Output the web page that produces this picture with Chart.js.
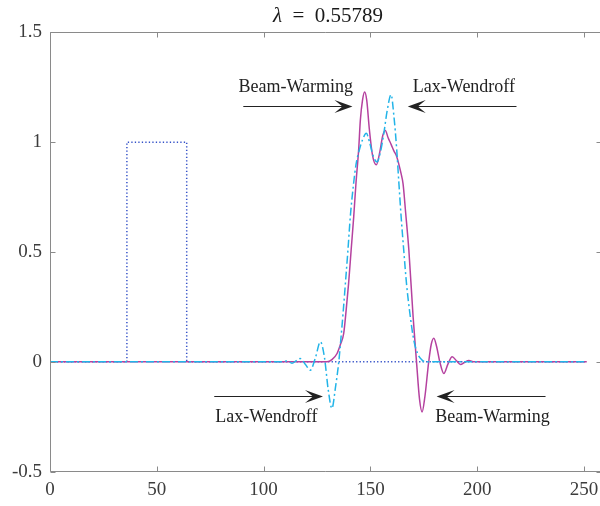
<!DOCTYPE html>
<html>
<head>
<meta charset="utf-8">
<script src="https://cdn.jsdelivr.net/npm/chart.js@4.4.1/dist/chart.umd.min.js"></script>
<style>
html, body { margin: 0; padding: 0; background: #fff; }
#wrap { width: 600px; height: 506px; position: relative; }
</style>
</head>
<body>
<div id="wrap"><canvas id="chart"></canvas></div>
<script>
// initial square pulse (dotted)
var initX = [0, 36, 36, 64, 64, 251.3];
var initY = [0, 0, 1, 1, 0, 0];

// Beam-Warming (solid)
var bwX = [0, 129.7, 132, 134.4, 136, 137.5, 138.7, 139.8, 141, 142.2, 143.3, 144.5, 145.3, 146.3, 147.3,
  148.3, 149.5, 151, 152.8, 154.3, 155.8, 157, 158.3, 159.7, 161, 162.3, 163.3, 164.3, 165.3, 166.5,
  168, 170, 171.6, 173, 174.2, 175.5, 177.3, 178.5, 179.7, 181, 182.5, 184.4, 186.3, 188.3, 190.3,
  192.2, 194, 196.1, 198.5, 251.3];
var bwY = [0, 0, 0.01, 0.038, 0.08, 0.129, 0.24, 0.357, 0.51, 0.661, 0.82, 0.965, 1.10, 1.19, 1.228,
  1.19, 1.06, 0.94, 0.897, 0.95, 1.03, 1.053, 1.02, 0.99, 0.96, 0.935, 0.90, 0.86, 0.81, 0.68,
  0.51, 0.205, 0, -0.17, -0.228, -0.16, 0, 0.08, 0.107, 0.07, 0, -0.053, -0.01, 0.023, 0.005,
  -0.012, -0.003, 0.006, 0, 0];

// Lax-Wendroff (dash-dot)
var lwX = [0, 108, 111, 113.3, 115.3, 117.2, 119.6, 121.9, 124.3, 126.6, 128.5, 130.3, 132, 133.6, 135.2,
  136, 137.2, 138.3, 139.5, 140.6, 142, 143.3, 144.7, 146.3, 148.1, 149.6, 151.2, 153.1, 154.8, 156.3,
  157.8, 159.7, 161, 162.3, 163.3, 164.4, 165.6, 166.9, 168.5, 170.3, 172, 174.2, 176, 251.3];
var lwY = [0, 0, 0.004, -0.006, 0.005, 0.015, -0.012, -0.038, 0.02, 0.091, 0.02, -0.13, -0.212, -0.12, 0,
  0.084, 0.22, 0.357, 0.51, 0.661, 0.80, 0.90, 0.96, 1.01, 1.04, 1.00, 0.94, 0.91, 0.96, 1.04,
  1.14, 1.216, 1.12, 0.97, 0.82, 0.66, 0.51, 0.357, 0.22, 0.10, 0.04, 0.008, 0, 0];

var lambdaValue = '0.55789';

// annotations: text centre / baseline, arrow tail -> tip
var noteText = ['Beam-Warming', 'Lax-Wendroff', 'Lax-Wendroff', 'Beam-Warming'];
var noteX = [115.1, 193.8, 101.3, 207.2];
var noteY = [1.229, 1.229, -0.273, -0.273];
var arrowTail = [90.5, 218.4, 76.9, 232];
var arrowTip = [141.6, 167.5, 127.8, 181];
var arrowY = [1.165, 1.165, -0.156, -0.156];

function toPoints(xs, ys) {
  var pts = [];
  for (var i = 0; i < xs.length; i++) pts.push({ x: xs[i], y: ys[i] });
  return pts;
}

var serif = '"Liberation Serif", "DejaVu Serif", serif';
Chart.defaults.font.family = serif;

var axisColor = '#8a8a8a';

var boxPlugin = {
  id: 'box',
  afterDatasetsDraw: function(chart) {
    var ctx = chart.ctx, a = chart.chartArea;
    var xs = chart.scales.x, ys = chart.scales.y;
    var L = Math.round(a.left) + 0.5, R = a.right + 1.5;
    var T = Math.round(a.top) + 0.5, B = Math.round(a.bottom) - 0.5;
    ctx.save();
    ctx.strokeStyle = axisColor;
    ctx.lineWidth = 1;
    ctx.beginPath();
    ctx.moveTo(R, T); ctx.lineTo(L, T); ctx.lineTo(L, B); ctx.lineTo(R, B);
    xs.ticks.forEach(function(t) {
      var px = Math.round(xs.getPixelForValue(t.value)) + 0.5;
      ctx.moveTo(px, B); ctx.lineTo(px, B - 5);
      ctx.moveTo(px, T); ctx.lineTo(px, T + 5);
    });
    ys.ticks.forEach(function(t) {
      var py = Math.round(ys.getPixelForValue(t.value)) + 0.5;
      ctx.moveTo(L, py); ctx.lineTo(L + 5, py);
      ctx.moveTo(R, py); ctx.lineTo(R - 5, py);
    });
    ctx.stroke();
    ctx.restore();
  }
};

var notesPlugin = {
  id: 'notes',
  afterDraw: function(chart) {
    var ctx = chart.ctx, xs = chart.scales.x, ys = chart.scales.y;
    ctx.save();
    // title with italic lambda
    var rest = ' =  ' + lambdaValue;
    ctx.font = 'italic 21px ' + serif;
    var w1 = ctx.measureText('\u03bb ').width;
    ctx.font = '21px ' + serif;
    var w2 = ctx.measureText(rest).width;
    var cx = 328;
    var x0 = cx - (w1 + w2) / 2;
    ctx.fillStyle = '#1a1a1a';
    ctx.textBaseline = 'alphabetic';
    ctx.textAlign = 'left';
    ctx.font = 'italic 21px ' + serif;
    ctx.fillText('\u03bb ', x0, 22);
    ctx.font = '21px ' + serif;
    ctx.fillText(rest, x0 + w1, 22);

    // annotation texts
    ctx.font = '18px ' + serif;
    ctx.textAlign = 'center';
    ctx.fillStyle = '#222';
    for (var i = 0; i < noteText.length; i++) {
      ctx.fillText(noteText[i], xs.getPixelForValue(noteX[i]), ys.getPixelForValue(noteY[i]));
    }
    // arrows
    ctx.strokeStyle = '#222';
    ctx.lineWidth = 1;
    for (var j = 0; j < arrowTail.length; j++) {
      var tx = xs.getPixelForValue(arrowTail[j]);
      var hx = xs.getPixelForValue(arrowTip[j]);
      var py = Math.round(ys.getPixelForValue(arrowY[j])) + 0.5;
      var dir = hx > tx ? 1 : -1;
      ctx.beginPath();
      ctx.moveTo(tx, py);
      ctx.lineTo(hx - dir * 8, py);
      ctx.stroke();
      ctx.beginPath();
      ctx.moveTo(hx, py);
      ctx.lineTo(hx - dir * 18, py - 6.5);
      ctx.lineTo(hx - dir * 10, py);
      ctx.lineTo(hx - dir * 18, py + 6.5);
      ctx.closePath();
      ctx.fill();
    }
    ctx.restore();
  }
};

var ctx = document.getElementById('chart').getContext('2d');
var chart = new Chart(ctx, {
  type: 'scatter',
  data: {
    datasets: [{
      label: 'Lax-Wendroff',
      data: toPoints(lwX, lwY),
      showLine: true,
      borderColor: '#22b4e8',
      borderWidth: 1.5,
      borderDash: [8, 3, 2, 3],
      pointRadius: 0,
      cubicInterpolationMode: 'monotone',
      order: 0
    }, {
      label: 'Beam-Warming',
      data: toPoints(bwX, bwY),
      showLine: true,
      borderColor: '#b5419f',
      borderWidth: 1.5,
      pointRadius: 0,
      cubicInterpolationMode: 'monotone',
      order: 1
    }, {
      label: 'Initial',
      data: toPoints(initX, initY),
      showLine: true,
      borderColor: '#3552c8',
      borderWidth: 1.5,
      borderDash: [1.3, 2.2],
      pointRadius: 0,
      tension: 0,
      order: 2
    }]
  },
  options: {
    responsive: true,
    maintainAspectRatio: false,
    animation: false,
    layout: { padding: { top: 32.3, left: 0, right: 0, bottom: 0 } },
    plugins: {
      legend: { display: false },
      tooltip: { enabled: false }
    },
    scales: {
      x: {
        type: 'linear',
        min: 0,
        max: 257.5,
        grid: { display: false, drawTicks: false },
        border: { display: false },
        ticks: {
          stepSize: 50,
          includeBounds: false,
          maxRotation: 0,
          padding: 7,
          color: '#3c3c3c',
          font: { size: 19, family: serif }
        },
        afterFit: function(s) { s.height = 34.3; s.paddingLeft = 0; s.paddingRight = 0; }
      },
      y: {
        type: 'linear',
        min: -0.5,
        max: 1.5,
        grid: { display: false, drawTicks: false },
        border: { display: false },
        ticks: {
          stepSize: 0.5,
          padding: 8,
          color: '#3c3c3c',
          font: { size: 19, family: serif },
          callback: function(v) { return String(v); }
        },
        afterFit: function(s) { s.width = 50; s.paddingTop = 0; s.paddingBottom = 0; }
      }
    }
  },
  plugins: [boxPlugin, notesPlugin]
});
</script>
</body>
</html>
